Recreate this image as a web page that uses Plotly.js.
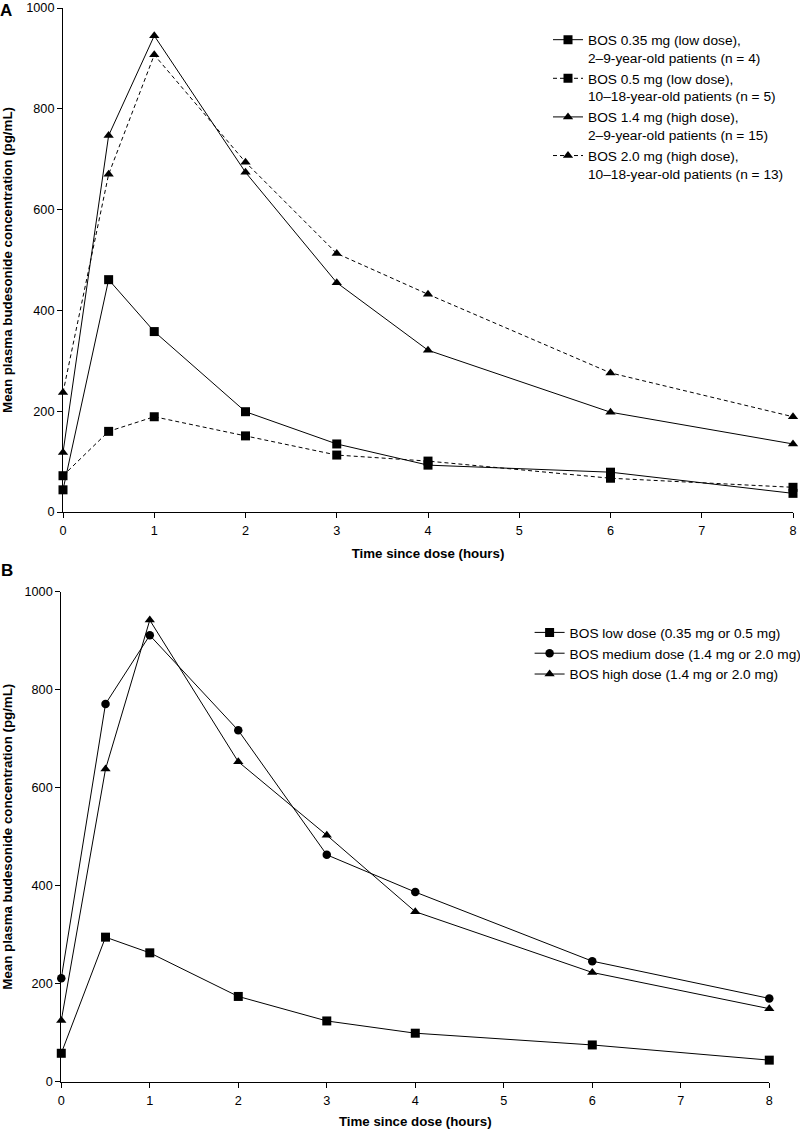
<!DOCTYPE html>
<html>
<head>
<meta charset="utf-8">
<script src="https://cdn.plot.ly/plotly-3.0.1.min.js"></script>
<style>html,body{margin:0;padding:0;background:#fff;}#chart{width:800px;height:1129px;}</style>
</head>
<body>
<div id="chart"></div>
<script>
// Time points (hours)
const timeHours = [0, 0.5, 1, 2, 3, 4, 6, 8];

// Panel A series (pg/mL)
const namesA = [
  "BOS 0.35 mg (low dose),<br>2–9-year-old patients (n = 4)",
  "BOS 0.5 mg (low dose),<br>10–18-year-old patients (n = 5)",
  "BOS 1.4 mg (high dose),<br>2–9-year-old patients (n = 15)",
  "BOS 2.0 mg (high dose),<br>10–18-year-old patients (n = 13)"
];
const bos035mg = [44, 461, 358, 199, 135, 93, 79, 37];
const bos05mg  = [72, 160, 189, 151, 113, 101, 67, 49];
const bos14mg  = [118, 747, 945, 674, 455, 321, 198, 135];
const bos20mg  = [237, 670, 907, 694, 513, 432, 276, 189];

// Panel B series (pg/mL)
const namesB = [
  "BOS low dose (0.35 mg or 0.5 mg)",
  "BOS medium dose (1.4 mg or 2.0 mg)",
  "BOS high dose (1.4 mg or 2.0 mg)"
];
const lowDose    = [58, 295, 263, 174, 124, 99, 75, 44];
const mediumDose = [211, 771, 911, 717, 463, 387, 246, 170];
const highDose   = [125, 638, 942, 653, 503, 347, 223, 149];

const xTicks = [0, 1, 2, 3, 4, 5, 6, 7, 8];
const yTicks = [0, 200, 400, 600, 800, 1000];

const FONT = "Liberation Sans, Arial, Helvetica, sans-serif";
const DASH = "4px,3px";

function tr(y, name, symbol, dash, xa, ya, leg, msize) {
  return {
    x: timeHours, y: y, name: name, type: "scatter", mode: "lines+markers",
    xaxis: xa, yaxis: ya, legend: leg, cliponaxis: false,
    line: {color: "#000", width: 1, dash: dash},
    marker: {symbol: symbol, size: msize, color: "#000", line: {width: 0}}
  };
}

const data = [
  tr(bos035mg, namesA[0], "square", "solid", "x", "y", "legend", 9),
  tr(bos05mg,  namesA[1], "square", DASH,   "x", "y", "legend", 9),
  tr(bos14mg,  namesA[2], "triangle-up", "solid", "x", "y", "legend", 9),
  tr(bos20mg,  namesA[3], "triangle-up", DASH,   "x", "y", "legend", 9),
  tr(lowDose,    namesB[0], "square", "solid", "x2", "y2", "legend2", 9),
  tr(mediumDose, namesB[1], "circle", "solid", "x2", "y2", "legend2", 8.5),
  tr(highDose,   namesB[2], "triangle-up", "solid", "x2", "y2", "legend2", 9)
];

function xax(domain, anchor) {
  return {
    domain: domain, anchor: anchor, range: [0, 8], tickvals: xTicks,
    showline: true, linecolor: "#000", linewidth: 1, mirror: false,
    ticks: "outside", ticklen: 5, tickcolor: "#000", tickwidth: 1,
    showgrid: false, zeroline: false, fixedrange: true, automargin: false,
    ticklabelstandoff: 2,
    tickfont: {family: FONT, size: 12.7, color: "#000"},
    title: {text: "Time since dose (hours)", standoff: 11,
            font: {family: FONT, size: 13.3, color: "#000", weight: "bold"}}
  };
}
function yax(domain, anchor) {
  return {
    domain: domain, anchor: anchor, range: [0, 1000], tickvals: yTicks,
    showline: true, linecolor: "#000", linewidth: 1,
    ticks: "outside", ticklen: 5, tickcolor: "#000", tickwidth: 1,
    showgrid: false, zeroline: false, fixedrange: true, automargin: false,
    tickfont: {family: FONT, size: 12.7, color: "#000"},
    title: {text: "Mean plasma budesonide concentration (pg/mL)", standoff: 10,
            font: {family: FONT, size: 13.3, color: "#000", weight: "bold"}}
  };
}

const layout = {
  width: 800, height: 1129,
  margin: {l: 0, r: 0, t: 0, b: 0, autoexpand: false},
  paper_bgcolor: "#fff", plot_bgcolor: "#fff",
  font: {family: FONT, color: "#000"},
  showlegend: true,
  xaxis: xax([0.07875, 0.99125], "y"),
  yaxis: yax([0.5465, 0.99291], "x"),
  xaxis2: xax([0.0766, 0.9616], "y2"),
  yaxis2: yax([0.04189, 0.47591], "x2"),
  legend: {
    x: 0.685, y: 0.9785, xanchor: "left", yanchor: "top",
    bgcolor: "rgba(0,0,0,0)", borderwidth: 0, valign: "top",
    font: {family: FONT, size: 13.7, color: "#000"}, tracegroupgap: 0
  },
  legend2: {
    x: 0.662, y: 0.4535, xanchor: "left", yanchor: "top",
    bgcolor: "rgba(0,0,0,0)", borderwidth: 0,
    font: {family: FONT, size: 13.7, color: "#000"}
  },
  annotations: [
    {text: "<b>A</b>", x: 0, y: 1, xref: "paper", yref: "paper", xanchor: "left", yanchor: "top",
     showarrow: false, font: {family: FONT, size: 17, color: "#000"}, xshift: -2, yshift: 1},
    {text: "<b>B</b>", x: 0, y: 0.4951, xref: "paper", yref: "paper", xanchor: "left", yanchor: "middle",
     showarrow: false, font: {family: FONT, size: 17, color: "#000"}, xshift: -1}
  ]
};

Plotly.newPlot("chart", data, layout, {displayModeBar: false, staticPlot: true});
</script>
</body>
</html>
